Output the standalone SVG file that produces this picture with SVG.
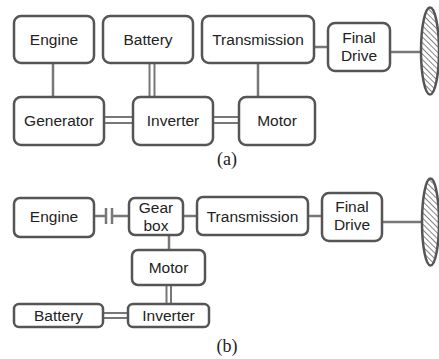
<svg xmlns="http://www.w3.org/2000/svg" width="439" height="359" viewBox="0 0 439 359">
<defs>
<pattern id="hatch" patternUnits="userSpaceOnUse" width="4" height="4" patternTransform="rotate(-45)">
<rect width="4" height="4" fill="#fff"/>
<line x1="0" y1="0" x2="0" y2="4" stroke="#666" stroke-width="1.6"/>
</pattern>
</defs>
<style>
.box{fill:#fff;stroke:#555;stroke-width:2.5}
.t{font-family:"Liberation Sans",Arial,sans-serif;font-size:15.5px;fill:#222;text-anchor:middle}
.cap{font-family:"Liberation Serif","Times New Roman",serif;font-size:18px;fill:#222;text-anchor:middle}
.c{stroke:#777;stroke-width:2.5;fill:none}
.d{stroke:#777;stroke-width:2;fill:none}
.wheel{fill:url(#hatch);stroke:#555;stroke-width:2.5}
</style>
<rect width="439" height="359" fill="#fff"/>
<g id="connectors">
<line class="c" x1="53" y1="63" x2="53" y2="97"/>
<line class="d" x1="149.5" y1="63" x2="149.5" y2="97"/>
<line class="d" x1="154.5" y1="63" x2="154.5" y2="97"/>
<line class="d" x1="104" y1="117" x2="133" y2="117"/>
<line class="d" x1="104" y1="123" x2="133" y2="123"/>
<line class="d" x1="213" y1="117" x2="239" y2="117"/>
<line class="d" x1="213" y1="123" x2="239" y2="123"/>
<line class="c" x1="258" y1="63" x2="258" y2="97"/>
<line class="c" x1="314" y1="47" x2="328" y2="47"/>
<line class="c" x1="390" y1="52" x2="421" y2="52"/>
<line class="c" x1="94" y1="216" x2="106" y2="216"/>
<line class="c" x1="106" y1="208" x2="106" y2="224"/>
<line class="c" x1="112" y1="208" x2="112" y2="224"/>
<line class="c" x1="112" y1="216" x2="129" y2="216"/>
<line class="c" x1="183" y1="216" x2="197" y2="216"/>
<line class="c" x1="169" y1="235" x2="169" y2="250"/>
<line class="d" x1="166.5" y1="285" x2="166.5" y2="304"/>
<line class="d" x1="171" y1="285" x2="171" y2="304"/>
<line class="d" x1="103" y1="313" x2="128" y2="313"/>
<line class="d" x1="103" y1="318" x2="128" y2="318"/>
<line class="c" x1="308" y1="216" x2="322" y2="216"/>
<line class="c" x1="382" y1="222" x2="422" y2="222"/>
</g>
<g id="a-engine"><rect class="box" x="14" y="16" width="80" height="47" rx="7"/><text class="t" x="54" y="45">Engine</text></g>
<g id="a-battery"><rect class="box" x="103" y="16" width="90" height="47" rx="7"/><text class="t" x="148" y="45">Battery</text></g>
<g id="a-transmission"><rect class="box" x="202" y="16" width="112" height="47" rx="7"/><text class="t" x="258" y="45">Transmission</text></g>
<g id="a-finaldrive"><rect class="box" x="328" y="23" width="62" height="48" rx="7"/><text class="t" x="359" y="42.5">Final</text><text class="t" x="359" y="61">Drive</text></g>
<g id="a-wheel"><ellipse class="wheel" cx="430" cy="51" rx="9" ry="43.5"/></g>
<g id="a-generator"><rect class="box" x="14" y="97" width="90" height="48" rx="7"/><text class="t" x="59" y="126">Generator</text></g>
<g id="a-inverter"><rect class="box" x="133" y="97" width="80" height="48" rx="7"/><text class="t" x="173" y="126">Inverter</text></g>
<g id="a-motor"><rect class="box" x="239" y="97" width="76" height="48" rx="7"/><text class="t" x="277" y="126">Motor</text></g>
<text class="cap" x="227" y="165">(a)</text>
<g id="b-engine"><rect class="box" x="14" y="198" width="80" height="39" rx="6"/><text class="t" x="54" y="222">Engine</text></g>
<g id="b-gearbox"><rect class="box" x="129" y="198" width="54" height="37" rx="6"/><text class="t" x="156" y="213">Gear</text><text class="t" x="156" y="231">box</text></g>
<g id="b-transmission"><rect class="box" x="197" y="197" width="111" height="38" rx="6"/><text class="t" x="252.5" y="222">Transmission</text></g>
<g id="b-finaldrive"><rect class="box" x="322" y="193" width="60" height="48" rx="7"/><text class="t" x="352" y="212">Final</text><text class="t" x="352" y="230">Drive</text></g>
<g id="b-wheel"><ellipse class="wheel" cx="430.5" cy="222" rx="8.5" ry="43.5"/></g>
<g id="b-motor"><rect class="box" x="132" y="250" width="73" height="35" rx="6"/><text class="t" x="168.5" y="273">Motor</text></g>
<g id="b-battery"><rect class="box" x="14" y="304" width="89" height="23" rx="5"/><text class="t" x="58.5" y="321">Battery</text></g>
<g id="b-inverter"><rect class="box" x="128" y="304" width="81" height="23" rx="5"/><text class="t" x="168.5" y="321">Inverter</text></g>
<text class="cap" x="227" y="352">(b)</text>
</svg>
